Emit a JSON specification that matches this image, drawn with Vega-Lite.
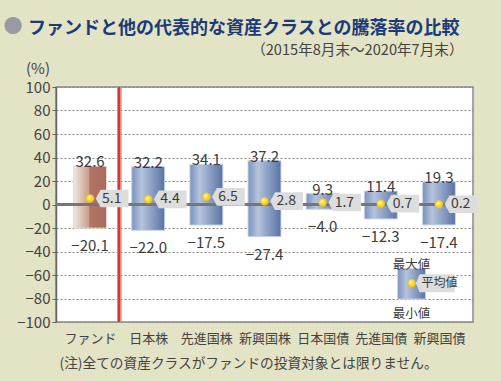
{
  "$schema": "https://vega.github.io/schema/vega-lite/v6.json",
  "width": 417,
  "height": 235,
  "autosize": {"type": "none"},
  "padding": {"left": 56, "top": 87, "right": 28, "bottom": 59},
  "background": "#e3e3c5",
  "config": {
    "font": "Noto Sans CJK JP",
    "view": {"fill": "#ffffff", "stroke": "#8a8a8a", "strokeWidth": 1.5}
  },
  "title": {
    "text": "ファンドと他の代表的な資産クラスとの騰落率の比較",
    "anchor": "start",
    "frame": "group",
    "dx": -28,
    "dy": 25,
    "fontSize": 18,
    "fontWeight": "bold",
    "color": "#1b3a78"
  },
  "data": {
    "values": [
      {"name": "ファンド", "i": 0, "max": 32.6, "min": -20.1, "mean": 5.1},
      {"name": "日本株", "i": 1, "max": 32.2, "min": -22.0, "mean": 4.4},
      {"name": "先進国株", "i": 2, "max": 34.1, "min": -17.5, "mean": 6.5},
      {"name": "新興国株", "i": 3, "max": 37.2, "min": -27.4, "mean": 2.8},
      {"name": "日本国債", "i": 4, "max": 9.3, "min": -4.0, "mean": 1.7},
      {"name": "先進国債", "i": 5, "max": 11.4, "min": -12.3, "mean": 0.7},
      {"name": "新興国債", "i": 6, "max": 19.3, "min": -17.4, "mean": 0.2}
    ]
  },
  "layer": [
    {
      "transform": [{"filter": "datum.i == 0"}],
      "mark": {
        "type": "bar",
        "width": 33,
        "fill": {"gradient": "linear", "x1": 0, "y1": 0, "x2": 1, "y2": 0,
          "stops": [
            {"offset": 0, "color": "#f0e8dc"},
            {"offset": 0.45, "color": "#c9a08f"},
            {"offset": 0.5, "color": "#b27464"},
            {"offset": 1, "color": "#a96b5b"}
          ]},
        "stroke": "#ecd8d0",
        "strokeWidth": 1
      },
      "encoding": {
        "x": {
          "field": "i", "type": "quantitative",
          "scale": {"domain": [-0.5, 6.5], "nice": false, "zero": false},
          "axis": {
            "orient": "bottom",
            "values": [0, 1, 2, 3, 4, 5, 6],
            "labelExpr": "['ファンド','日本株','先進国株','新興国株','日本国債','先進国債','新興国債'][datum.value]",
            "ticks": false, "domain": false, "grid": false,
            "labelFontSize": 13, "labelColor": "#444444", "labelPadding": 10,
            "title": "(注)全ての資産クラスがファンドの投資対象とは限りません。",
            "titleFontSize": 13.7, "titleFontWeight": "normal", "titleColor": "#444444",
            "titleX": 3, "titleY": 41, "titleAlign": "left", "titleBaseline": "middle"
          }
        },
        "y": {
          "field": "max", "type": "quantitative",
          "scale": {"domain": [-100, 100], "nice": false},
          "axis": {
            "values": [-100, -80, -60, -40, -20, 0, 20, 40, 60, 80, 100],
            "labelFontSize": 15, "labelColor": "#444444", "labelPadding": 2,
            "tickSize": 4, "tickColor": "#666666",
            "domainColor": "#666666", "domainWidth": 1.5,
            "grid": true, "gridDash": [2, 2], "gridColor": "#888888", "gridWidth": 1,
            "title": "(%)", "titleAngle": 0, "titleX": -18.5, "titleY": -19,
            "titleAlign": "center", "titleBaseline": "middle",
            "titleFontSize": 15, "titleFontWeight": "normal", "titleColor": "#444444"
          }
        },
        "y2": {"field": "min"}
      }
    },
    {
      "transform": [{"filter": "datum.i > 0"}],
      "mark": {
        "type": "bar",
        "width": 33,
        "fill": {"gradient": "linear", "x1": 0, "y1": 0, "x2": 1, "y2": 0,
          "stops": [
            {"offset": 0, "color": "#7a92bd"},
            {"offset": 0.3, "color": "#b5c3dd"},
            {"offset": 1, "color": "#5873a5"}
          ]},
        "stroke": "#ccd6e8",
        "strokeWidth": 1
      },
      "encoding": {
        "x": {"field": "i", "type": "quantitative", "axis": null},
        "y": {"field": "max", "type": "quantitative", "axis": null},
        "y2": {"field": "min"}
      }
    },
    {
      "mark": {"type": "rule", "color": "#777777", "strokeWidth": 2},
      "encoding": {
        "y": {
          "datum": 0, "type": "quantitative",
          "axis": {
            "orient": "right", "labels": false, "ticks": false, "domain": false, "grid": false,
            "title": "（2015年8月末〜2020年7月末）", "titleAngle": 0,
            "titleX": -10, "titleY": -37, "titleAlign": "right", "titleBaseline": "middle",
            "titleFontSize": 14.6, "titleFontWeight": "normal", "titleColor": "#444444"
          }
        }
      }
    },
    {
      "mark": {"type": "rule", "color": "#e68a86", "strokeWidth": 4},
      "encoding": {
        "x": {
          "datum": 0.5, "type": "quantitative",
          "axis": {
            "orient": "top", "labels": false, "ticks": false, "domain": false, "grid": false,
            "title": "●", "titleX": -43.5, "titleY": -61, "titleAlign": "center", "titleBaseline": "middle",
            "titleFontSize": 19, "titleFontWeight": "normal", "titleColor": "#9a9aa4"
          }
        }
      }
    },
    {
      "mark": {"type": "rule", "color": "#d23a36", "strokeWidth": 1.5},
      "encoding": {"x": {"datum": 0.5, "type": "quantitative", "axis": null}}
    },
    {
      "mark": {"type": "text", "fontSize": 15, "color": "#3c3c3c", "align": "center", "dy": -4},
      "encoding": {
        "x": {"field": "i", "type": "quantitative", "axis": null},
        "y": {"field": "max", "type": "quantitative", "axis": null},
        "text": {"field": "max", "type": "quantitative", "format": ".1f"}
      }
    },
    {
      "mark": {"type": "text", "fontSize": 15, "color": "#3c3c3c", "align": "center", "dy": 18},
      "encoding": {
        "x": {"field": "i", "type": "quantitative", "axis": null},
        "y": {"field": "min", "type": "quantitative", "axis": null},
        "text": {"field": "min", "type": "quantitative", "format": ".1f"}
      }
    },
    {
      "mark": {"type": "point", "filled": true, "shape": "M0.335,0L0.62,-0.52L2.26,-0.52L2.26,0.52L0.62,0.52Z", "size": 1156, "fill": "#dddddd", "opacity": 1, "strokeWidth": 0},
      "encoding": {
        "x": {"field": "i", "type": "quantitative", "axis": null},
        "y": {"field": "mean", "type": "quantitative", "axis": null}
      }
    },
    {
      "mark": {"type": "point", "filled": true, "shape": "circle", "size": 72, "opacity": 1,
        "fill": {"gradient": "radial", "x1": 0.38, "y1": 0.35, "r1": 0, "x2": 0.5, "y2": 0.5, "r2": 0.55,
          "stops": [{"offset": 0, "color": "#fffbe0"}, {"offset": 0.5, "color": "#f9dc3a"}, {"offset": 1, "color": "#e9b800"}]},
        "strokeWidth": 0},
      "encoding": {
        "x": {"field": "i", "type": "quantitative", "axis": null},
        "y": {"field": "mean", "type": "quantitative", "axis": null}
      }
    },
    {
      "mark": {"type": "text", "fontSize": 14, "color": "#3c3c3c", "align": "left", "baseline": "middle", "dx": 12},
      "encoding": {
        "x": {"field": "i", "type": "quantitative", "axis": null},
        "y": {"field": "mean", "type": "quantitative", "axis": null},
        "text": {"field": "mean", "type": "quantitative", "format": ".1f"}
      }
    },
    {
      "data": {"values": [{"hi": "最大値", "avg": "平均値", "lo": "最小値"}]},
      "layer": [
        {
          "mark": {"type": "bar", "width": 28,
            "fill": {"gradient": "linear", "x1": 0, "y1": 0, "x2": 1, "y2": 0,
              "stops": [
                {"offset": 0, "color": "#7a92bd"},
                {"offset": 0.3, "color": "#b5c3dd"},
                {"offset": 1, "color": "#5873a5"}
              ]},
            "stroke": "#ccd6e8", "strokeWidth": 1},
          "encoding": {
            "x": {"datum": 5.53, "type": "quantitative", "axis": null},
            "y": {"datum": -54.5, "type": "quantitative", "axis": null},
            "y2": {"datum": -80.5}
          }
        },
        {
          "mark": {"type": "point", "filled": true, "shape": "M0.253,0L0.47,-0.53L2.53,-0.53L2.53,0.53L0.47,0.53Z", "size": 1156, "fill": "#dddddd", "opacity": 1, "strokeWidth": 0},
          "encoding": {
            "x": {"datum": 5.53, "type": "quantitative", "axis": null},
            "y": {"datum": -67, "type": "quantitative", "axis": null}
          }
        },
        {
          "mark": {"type": "point", "filled": true, "shape": "circle", "size": 72, "opacity": 1,
            "fill": {"gradient": "radial", "x1": 0.38, "y1": 0.35, "r1": 0, "x2": 0.5, "y2": 0.5, "r2": 0.55,
              "stops": [{"offset": 0, "color": "#fffbe0"}, {"offset": 0.5, "color": "#f9dc3a"}, {"offset": 1, "color": "#e9b800"}]},
            "strokeWidth": 0},
          "encoding": {
            "x": {"datum": 5.53, "type": "quantitative", "axis": null},
            "y": {"datum": -67, "type": "quantitative", "axis": null}
          }
        },
        {
          "mark": {"type": "text", "fontSize": 12, "color": "#3c3c3c", "align": "left", "baseline": "middle", "dx": 10},
          "encoding": {
            "x": {"datum": 5.53, "type": "quantitative", "axis": null},
            "y": {"datum": -67, "type": "quantitative", "axis": null},
            "text": {"field": "avg"}
          }
        },
        {
          "mark": {"type": "text", "fontSize": 12.5, "color": "#3c3c3c", "align": "center", "dy": -4},
          "encoding": {
            "x": {"datum": 5.53, "type": "quantitative", "axis": null},
            "y": {"datum": -54.5, "type": "quantitative", "axis": null},
            "text": {"field": "hi"}
          }
        },
        {
          "mark": {"type": "text", "fontSize": 12.5, "color": "#3c3c3c", "align": "center", "dy": 15},
          "encoding": {
            "x": {"datum": 5.53, "type": "quantitative", "axis": null},
            "y": {"datum": -80.5, "type": "quantitative", "axis": null},
            "text": {"field": "lo"}
          }
        }
      ]
    }
  ],
  "resolve": {"axis": {"x": "independent", "y": "independent"}}
}
